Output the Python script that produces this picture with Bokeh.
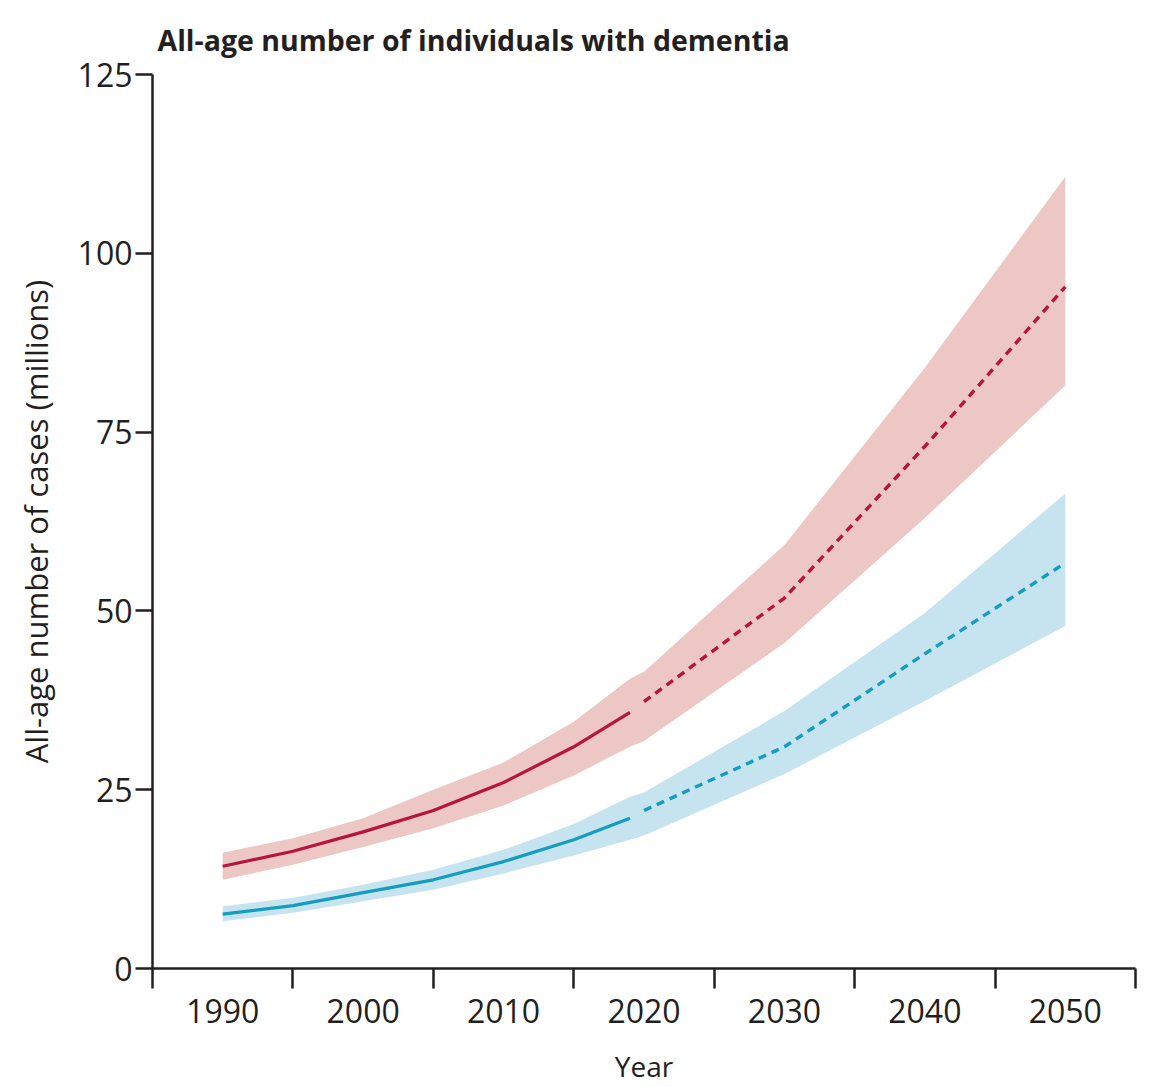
from bokeh.plotting import figure
from bokeh.models import FixedTicker, Range1d
from bokeh.embed import file_html
from bokeh.resources import INLINE

# ---- data (millions) ----
years_obs = [1990, 1995, 2000, 2005, 2010, 2015, 2019]
years_fc = [2020, 2030, 2040, 2050]

red_obs = [14.3, 16.4, 19.1, 22.1, 26.0, 31.0, 35.8]
red_obs_lo = [12.4, 14.5, 17.0, 19.6, 22.8, 27.0, 31.0]
red_obs_hi = [16.2, 18.2, 21.0, 25.0, 28.8, 34.5, 40.5]
red_fc = [37.3, 51.8, 73.0, 95.3]
red_fc_lo = [31.8, 45.5, 63.0, 81.5]
red_fc_hi = [41.5, 59.2, 84.0, 110.7]

blue_obs = [7.6, 8.8, 10.6, 12.4, 14.95, 18.0, 21.0]
blue_obs_lo = [6.6, 7.8, 9.4, 11.0, 13.3, 15.8, 18.0]
blue_obs_hi = [8.7, 9.9, 11.7, 13.8, 16.6, 20.2, 24.0]
blue_fc = [22.1, 31.0, 44.0, 56.7]
blue_fc_lo = [18.6, 27.2, 37.4, 47.9]
blue_fc_hi = [24.6, 36.0, 49.7, 66.4]

x_labels = [1990, 2000, 2010, 2020, 2030, 2040, 2050]
x_bounds = [1985, 1995, 2005, 2015, 2025, 2035, 2045, 2055]
y_ticks = [0, 25, 50, 75, 100, 125]

RED = "#B7153C"
RED_BAND = "#EDC7C3"
BLUE = "#159DBF"
BLUE_BAND = "#C5E4F0"
INK = "#231F20"

p = figure(width=1150, height=1087, output_backend="svg", toolbar_location=None,
           x_range=Range1d(1985, 2055), y_range=Range1d(0, 125),
           min_border_left=152, min_border_right=15, min_border_top=74, min_border_bottom=118)
p.outline_line_color = None
p.grid.visible = False

all_years = years_obs + years_fc
p.varea(x=all_years, y1=red_obs_lo + red_fc_lo, y2=red_obs_hi + red_fc_hi, fill_color=RED_BAND)
p.varea(x=all_years, y1=blue_obs_lo + blue_fc_lo, y2=blue_obs_hi + blue_fc_hi, fill_color=BLUE_BAND)

p.line(years_obs, red_obs, line_color=RED, line_width=3.2)
p.line(years_fc, red_fc, line_color=RED, line_width=3.4, line_dash="8 6")
p.line(years_obs, blue_obs, line_color=BLUE, line_width=3.2)
p.line(years_fc, blue_fc, line_color=BLUE, line_width=3.4, line_dash="8 6")

# title
p.title.text = "All-age number of individuals with dementia"
p.title.text_font = "Open Sans"
p.title.text_font_style = "bold"
p.title.text_font_size = "28.5px"
p.title.text_color = INK
p.title.align = "left"
p.title.offset = 5
p.title.standoff = 32

# x axis
xa = p.xaxis[0]
xa.ticker = FixedTicker(ticks=x_labels, minor_ticks=x_bounds)
xa.major_tick_out = 0
xa.major_tick_in = 0
xa.minor_tick_out = 20
xa.minor_tick_in = 0
xa.minor_tick_line_color = INK
xa.minor_tick_line_width = 2.5
xa.axis_line_color = INK
xa.axis_line_width = 2.5
xa.major_label_text_font = "Open Sans"
xa.major_label_text_font_size = "32px"
xa.major_label_text_color = INK
xa.major_label_standoff = 10
xa.axis_label = "Year"
xa.axis_label_text_font = "Open Sans"
xa.axis_label_text_font_style = "normal"
xa.axis_label_text_font_size = "28px"
xa.axis_label_text_color = INK
xa.axis_label_standoff = 21

# y axis
ya = p.yaxis[0]
ya.ticker = FixedTicker(ticks=y_ticks)
ya.major_tick_out = 17
ya.major_tick_in = 0
ya.minor_tick_out = 0
ya.minor_tick_in = 0
ya.major_tick_line_color = INK
ya.major_tick_line_width = 2.5
ya.axis_line_color = INK
ya.axis_line_width = 2.5
ya.major_label_text_font = "Open Sans"
ya.major_label_text_font_size = "32px"
ya.major_label_text_color = INK
ya.major_label_standoff = 3
ya.axis_label = "All-age number of cases (millions)"
ya.axis_label_text_font = "Open Sans"
ya.axis_label_text_font_style = "normal"
ya.axis_label_text_font_size = "31px"
ya.axis_label_text_color = INK
ya.axis_label_standoff = 18

open("out.html", "w").write(file_html(p, INLINE))
